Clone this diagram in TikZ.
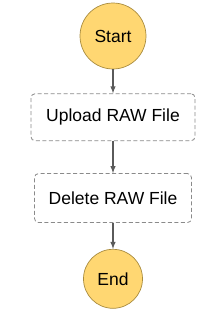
\documentclass[tikz,border=0pt]{standalone}
\usepackage{fontspec}
\setmainfont{Liberation Sans}
\usetikzlibrary{positioning}
\definecolor{stateYellow}{HTML}{FFD772}
\definecolor{stateBorder}{HTML}{A88B3E}
\definecolor{taskBorder}{HTML}{8A8A8A}
\definecolor{flowGray}{HTML}{5A5A5A}
\begin{document}
\begin{tikzpicture}[inner sep=0.0 pt, align=center, font=\fontsize{17.5}{20}\selectfont]
    \tikzset{
        terminal/.style={draw=stateBorder, line width=0.7pt, circle, fill=stateYellow},
        taskbox/.style={draw=taskBorder, line width=0.8pt, dash pattern=on 4pt off 2.5pt, rectangle, rounded corners=4pt, fill=white},
        flow/.style={draw=flowGray, line width=1.4pt, -latex}
    }
    \useasboundingbox (0,0) rectangle (221pt,-324pt);

    \node (start) [terminal, minimum size=66pt] at (113pt,-36pt) {Start};
    \node (upload) [taskbox, minimum width=164pt, minimum height=47pt, below=24pt of start] {Upload RAW File};
    \node (delete) [taskbox, minimum width=157pt, minimum height=49pt, below=32pt of upload] {Delete RAW File};
    \node (end) [terminal, minimum size=59pt, below=26pt of delete] {End};

    \draw [flow] (start.south) -- (upload.north);
    \draw [flow] (upload.south) -- (delete.north);
    \draw [flow] (delete.south) -- (end.north);
\end{tikzpicture}
\end{document}
